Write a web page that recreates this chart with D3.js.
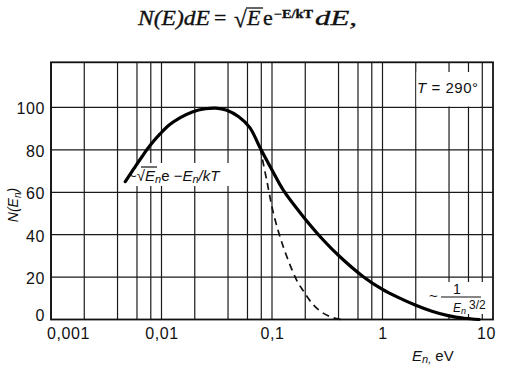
<!DOCTYPE html>
<html><head><meta charset="utf-8">
<script src="https://cdn.jsdelivr.net/npm/d3@7"></script>
<style>
html,body{margin:0;padding:0;background:#fff;}
svg{display:block;}
text{font-family:"Liberation Sans",Arial,sans-serif;fill:#111;}
</style></head>
<body><svg id="c" width="527" height="379"></svg>
<script>
// ---- data ----
const xTickValues = [0.001, 0.01, 0.1, 1, 10];
const xTickLabels = ["0,001", "0,01", "0,1", "1", "10"];
const yTickValues = [0, 20, 40, 60, 80, 100];
const gridDecades = [0.001, 0.01, 0.1, 1];
const gridSteps = [1, 2, 4, 6, 8];
// solid curve  ~ sqrt(E) e^(-E/kT)  then ~ 1/E^(3/2)
const solidE = [0.0047, 0.0056, 0.0067, 0.008, 0.0097, 0.0118, 0.0148, 0.019, 0.025, 0.031, 0.039, 0.05, 0.063, 0.078, 0.1, 0.1265, 0.192, 0.291, 0.412, 0.67, 1.0, 1.4, 2.0, 2.8, 4.0, 5.5, 7.5];
const solidN = [65, 71, 77, 82.5, 87.5, 91.8, 95.2, 97.9, 99.4, 99.7, 98.7, 95.6, 90.5, 81, 70.5, 61, 48.5, 37.5, 29.6, 20.2, 14.2, 10.3, 6.7, 3.9, 1.7, 0.6, 0];
// dashed curve (Maxwell tail)
const dashE = [0.078, 0.0895, 0.103, 0.1265, 0.167, 0.192, 0.236, 0.29, 0.36, 0.43];
const dashN = [81, 65.8, 50.1, 34.3, 18.6, 13.5, 7, 3, 0.8, 0];

const svg = d3.select("#c");
const L = 51, R = 493, T = 62.3, B = 319.5;
const x = d3.scaleLog().domain([0.001, 10]).range([L, R]);
const y = d3.scaleLinear().domain([0, 121.3]).range([B, T]);

// grid
const gridX = [];
gridDecades.forEach(d => gridSteps.forEach(s => gridX.push(d * s)));
const g = svg.append("g");
g.selectAll("line.vx").data(gridX).join("line")
  .attr("x1", d => x(d)).attr("x2", d => x(d)).attr("y1", T).attr("y2", B)
  .attr("stroke", "#1a1a1a").attr("stroke-width", 1.2);
g.selectAll("line.hy").data(yTickValues.filter(v => v > 0)).join("line")
  .attr("x1", L).attr("x2", R).attr("y1", d => y(d)).attr("y2", d => y(d))
  .attr("stroke", "#1a1a1a").attr("stroke-width", 1.2);

// white label backgrounds (break the grid)
svg.append("rect").attr("x", 416.5).attr("y", 72).attr("width", 63.5).attr("height", 34.5).attr("fill", "#fff");
svg.append("rect").attr("x", 128).attr("y", 163).attr("width", 104).attr("height", 23).attr("fill", "#fff");
svg.append("rect").attr("x", 428).attr("y", 282).attr("width", 60).attr("height", 32).attr("fill", "#fff");

// frame
svg.append("rect").attr("x", L).attr("y", T).attr("width", R - L).attr("height", B - T)
  .attr("fill", "none").attr("stroke", "#111").attr("stroke-width", 1.8);

// curves
const line = d3.line().x(d => x(d[0])).y(d => y(d[1])).curve(d3.curveCatmullRom.alpha(0.5));
svg.append("path").datum(dashE.map((e, i) => [e, dashN[i]])).attr("d", line)
  .attr("fill", "none").attr("stroke", "#111").attr("stroke-width", 1.7).attr("stroke-dasharray", "7,5");
svg.append("path").datum(solidE.map((e, i) => [e, solidN[i]])).attr("d", line)
  .attr("fill", "none").attr("stroke", "#000").attr("stroke-width", 3.2).attr("stroke-linecap", "round");

// axes (labels only)
const xAxis = d3.axisBottom(x).tickValues(xTickValues).tickSize(0).tickFormat((d, i) => xTickLabels[i]);
const xa = svg.append("g").attr("transform", `translate(0,${B})`).call(xAxis);
xa.select(".domain").remove();
const xShift = [17, 0, 0, 0, -7];
xa.selectAll("text").attr("font-size", 16).attr("font-family", "Liberation Sans, Arial, sans-serif")
  .attr("fill", "#111").attr("dy", "1.05em").attr("letter-spacing", 0.6)
  .attr("dx", (d, i) => xShift[i]);

const yAxis = d3.axisLeft(y).tickValues(yTickValues).tickSize(0).tickPadding(6);
const ya = svg.append("g").attr("transform", `translate(${L},0)`).call(yAxis);
ya.select(".domain").remove();
ya.selectAll("text").attr("font-size", 16).attr("font-family", "Liberation Sans, Arial, sans-serif")
  .attr("fill", "#111").attr("letter-spacing", 0.6)
  .attr("dy", d => d === 0 ? "0.05em" : "0.4em");

// axis titles
const yt = svg.append("text").attr("transform", "translate(18,205) rotate(-90)")
  .attr("text-anchor", "middle").attr("font-size", 14);
yt.append("tspan").attr("font-style", "italic").text("N(E");
yt.append("tspan").attr("font-style", "italic").attr("font-size", 10).attr("dy", 3).text("n");
yt.append("tspan").attr("font-style", "italic").attr("dy", -3).text(")");

const xt = svg.append("text").attr("x", 412).attr("y", 361).attr("font-size", 15);
xt.append("tspan").attr("font-style", "italic").text("E");
xt.append("tspan").attr("font-style", "italic").attr("font-size", 11).attr("dy", 2).text("n,");
xt.append("tspan").attr("dy", -2).text(" eV");

// T = 290°
const tt = svg.append("text").attr("x", 417).attr("y", 93).attr("font-size", 15)
  .attr("textLength", 61).attr("lengthAdjust", "spacing");
tt.append("tspan").attr("font-style", "italic").text("T");
tt.append("tspan").text(" = 290°");

// curve label ~√E_n e −E_n/kT
const lab = svg.append("text").attr("x", 128).attr("y", 181).attr("font-size", 15);
lab.append("tspan").text("~√");
lab.append("tspan").attr("font-style", "italic").text("E");
lab.append("tspan").attr("font-style", "italic").attr("font-size", 11).attr("dy", 2).text("n");
lab.append("tspan").attr("dy", -2).text("e ");
lab.append("tspan").text("−");
lab.append("tspan").attr("font-style", "italic").text("E");
lab.append("tspan").attr("font-style", "italic").attr("font-size", 11).attr("dy", 2).text("n");
lab.append("tspan").attr("font-style", "italic").attr("dy", -2).text("/kT");
svg.append("line").attr("x1", 141).attr("x2", 157).attr("y1", 167).attr("y2", 167)
  .attr("stroke", "#111").attr("stroke-width", 1.2);

// ~ 1 / E_n^{3/2}
svg.append("text").attr("x", 429).attr("y", 301).attr("font-size", 15).text("~");
svg.append("text").attr("x", 457).attr("y", 294).attr("font-size", 14).attr("text-anchor", "middle").text("1");
svg.append("line").attr("x1", 441).attr("x2", 481).attr("y1", 297).attr("y2", 297)
  .attr("stroke", "#111").attr("stroke-width", 1.2);
const den = svg.append("text").attr("x", 453).attr("y", 312).attr("font-size", 12);
den.append("tspan").attr("font-style", "italic").text("E");
den.append("tspan").attr("font-style", "italic").attr("font-size", 9).attr("dy", 2).text("n");
den.append("tspan").attr("font-size", 12).attr("dx", 3).attr("dy", -5).text("3/2");

// formula at top
const serif = "'Liberation Serif','Times New Roman',serif";
function ftext(xp, yp, size, txt, opts) {
  const t = svg.append("text").attr("x", xp).attr("y", yp).attr("font-size", size)
    .style("font-family", serif).attr("fill", "#111").attr("stroke", "#111").attr("stroke-width", 0.35).text(txt);
  if (opts && opts.italic) t.attr("font-style", "italic");
  if (opts && opts.bold) t.attr("font-weight", "bold");
  if (opts && opts.len) t.attr("textLength", opts.len).attr("lengthAdjust", "spacingAndGlyphs");
  return t;
}
ftext(138, 25, 22, "N(E)dE", {italic: true, len: 72});
ftext(214, 25, 22, "=", {});
ftext(234, 27, 23, "√", {});
svg.append("line").attr("x1", 246).attr("x2", 263).attr("y1", 8).attr("y2", 8).attr("stroke", "#111").attr("stroke-width", 1.3);
ftext(247, 25, 22, "E", {italic: true});
ftext(263, 25, 22, "e", {});
ftext(274, 18, 12, "−E/kT", {bold: true, len: 39});
ftext(315, 25, 22, "dE,", {italic: true, len: 42});
</script></body></html>
